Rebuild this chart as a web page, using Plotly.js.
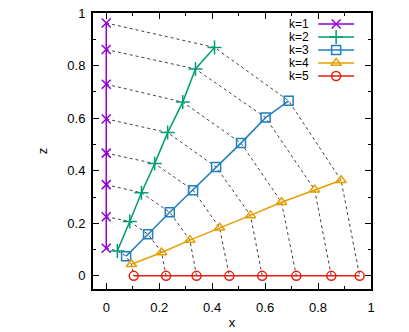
<!DOCTYPE html>
<html><head><meta charset="utf-8">
<script src="https://cdn.plot.ly/plotly-3.0.1.min.js"></script>
<style>html,body{margin:0;padding:0;background:#fff;}#plot{width:409px;height:332px;}</style>
</head><body><div id="plot"></div>
<script>
// ---- data ----
const seriesNames = ["k=1", "k=2", "k=3", "k=4", "k=5"];
const k1x = [0, 0, 0, 0, 0, 0, 0, 0];
const k1z = [0.962, 0.861, 0.729, 0.597, 0.467, 0.347, 0.225, 0.105];
const k2x = [0.409, 0.337, 0.289, 0.232, 0.183, 0.133, 0.089, 0.042];
const k2z = [0.869, 0.787, 0.661, 0.545, 0.427, 0.316, 0.207, 0.095];
const k3x = [0.689, 0.602, 0.509, 0.415, 0.328, 0.240, 0.158, 0.075];
const k3z = [0.666, 0.602, 0.505, 0.414, 0.326, 0.242, 0.158, 0.075];
const k4x = [0.887, 0.787, 0.662, 0.545, 0.428, 0.316, 0.209, 0.095];
const k4z = [0.364, 0.328, 0.280, 0.230, 0.183, 0.136, 0.089, 0.044];
const k5x = [0.957, 0.850, 0.718, 0.589, 0.465, 0.341, 0.226, 0.104];
const k5z = [0, 0, 0, 0, 0, 0, 0, 0];
const tickVals = [0, 0.2, 0.4, 0.6, 0.8, 1];
const tickText = ["0", "0.2", "0.4", "0.6", "0.8", "1"];

// ---- styles ----
const xs = [k1x, k2x, k3x, k4x, k5x];
const zs = [k1z, k2z, k3z, k4z, k5z];
const colors = ["#9400d3", "#009e73", "#1f7fc0", "#e69f00", "#e51e10"];
const symbols = ["x-thin-open", "cross-thin-open", "square-open", "triangle-up-open", "circle-open"];
const msizes = [9, 10, 9, 9, 9];
const font = "Liberation Sans, Arial, sans-serif";

const traces = [];
// dotted connectors between corresponding points
for (let i = 0; i < k1x.length; i++) {
  traces.push({
    x: xs.map(a => a[i]), y: zs.map(a => a[i]),
    mode: "lines", line: {color: "rgba(0,0,0,0.75)", width: 1, dash: "dot"},
    hoverinfo: "skip", showlegend: false
  });
}
// series
for (let s = 0; s < 5; s++) {
  traces.push({
    x: xs[s], y: zs[s], mode: "lines+markers", name: seriesNames[s],
    line: {color: colors[s], width: 1.5},
    marker: {symbol: symbols[s], size: msizes[s], color: colors[s], line: {color: colors[s], width: 1.5}},
    showlegend: false
  });
}

// custom gnuplot-style legend (text left of sample) on a helper pixel axis
const plotW = 279, plotH = 276;
const annotations = [];
for (let s = 0; s < 5; s++) {
  const rowY = 11 + 13 * s;
  traces.push({
    x: [226, 262], y: [rowY, rowY], xaxis: "x2", yaxis: "y2", mode: "lines",
    line: {color: colors[s], width: 1.5}, hoverinfo: "skip", showlegend: false
  });
  traces.push({
    x: [244], y: [rowY], xaxis: "x2", yaxis: "y2", mode: "markers",
    marker: {symbol: symbols[s], size: msizes[s], color: colors[s], line: {color: colors[s], width: 1.5}},
    hoverinfo: "skip", showlegend: false
  });
  annotations.push({
    xref: "x2", yref: "y2", x: 218, y: rowY, text: seriesNames[s], showarrow: false,
    xanchor: "right", yanchor: "middle", borderpad: 0,
    font: {family: font, size: 12, color: "#000"}
  });
}

const axisCommon = {
  range: [-0.05, 1], tickvals: tickVals, ticktext: tickText,
  ticks: "inside", ticklen: 6, tickwidth: 1, tickcolor: "#000",
  minor: {ticks: "inside", dtick: 0.1, tick0: 0, ticklen: 3, tickwidth: 1, tickcolor: "#000"},
  showline: true, linecolor: "#000", linewidth: 2, mirror: "allticks",
  showgrid: false, zeroline: false,
  tickfont: {family: font, size: 13, color: "#000"}
};

const layout = {
  width: 409, height: 332,
  margin: {l: 93, r: 38, t: 13, b: 43},
  paper_bgcolor: "#fff", plot_bgcolor: "#fff",
  showlegend: false,
  xaxis: Object.assign({}, axisCommon, {ticklabelstandoff: 5,
    title: {text: "x", font: {family: font, size: 13, color: "#000"}, standoff: 4}}),
  yaxis: Object.assign({}, axisCommon, {ticklabelstandoff: 3,
    title: {text: "z", font: {family: font, size: 13, color: "#000"}, standoff: 17}}),
  xaxis2: {overlaying: "x", anchor: "y2", range: [0, plotW], visible: false, fixedrange: true},
  yaxis2: {overlaying: "y", anchor: "x2", range: [plotH, 0], visible: false, fixedrange: true},
  annotations: annotations
};

Plotly.newPlot("plot", traces, layout, {displayModeBar: false, staticPlot: true});
</script>
</body></html>
